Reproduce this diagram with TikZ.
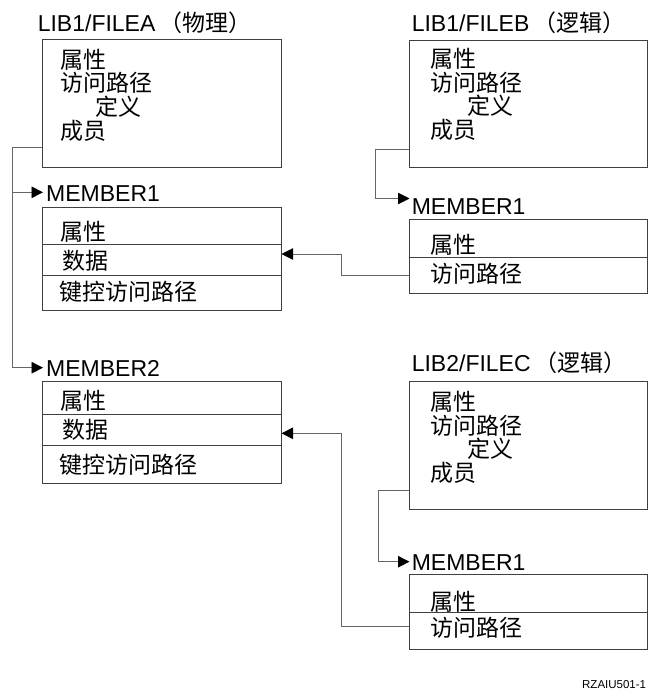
\documentclass[tikz,border=0pt]{standalone}
\usepackage{fontspec}
\setmainfont{Liberation Sans}
\newfontfamily\cjk{Noto Sans CJK SC}
\usetikzlibrary{arrows.meta}

\begin{document}
\begin{tikzpicture}[x=1pt,y=-1pt,font=\fontsize{23}{24}\selectfont,
  box/.style={draw=black!75,line width=0.9pt,inner sep=0pt,anchor=north west},
  row/.style={draw=black!75,line width=0.9pt},
  txt/.style={anchor=west,inner sep=0pt,font=\fontsize{23}{24}\selectfont\cjk},
  lbl/.style={anchor=base west,inner sep=0pt},
  link/.style={draw=black!60,line width=0.9pt},
  arr/.style={link,-{Triangle[length=11.5pt,width=11.5pt,color=black]}}]
\useasboundingbox (0,0) rectangle (648,689);
% files
\node[lbl] (titlea) at (37.6,31.7) {LIB1/FILEA\hspace{4pt}{\cjk（物理）}};
\node[box,minimum width=239pt,minimum height=127.4pt] (filea) at (41.7,39.3) {};
\node[txt] (fa1) at (60,60) {属性};
\node[txt] (fa2) at (60,83) {访问路径};
\node[txt] (fa3) at (95.7,107) {定义};
\node[txt] (fa4) at (60,131) {成员};
\node[lbl] (titleb) at (411.6,31.7) {LIB1/FILEB\hspace{4pt}{\cjk（逻辑）}};
\node[box,minimum width=237.7pt,minimum height=126.7pt] (fileb) at (409,40) {};
\node[txt] (fb1) at (430.7,59) {属性};
\node[txt] (fb2) at (430.7,82.5) {访问路径};
\node[txt] (fb3) at (467.3,106) {定义};
\node[txt] (fb4) at (430.7,130) {成员};
\node[lbl] (titlec) at (411.6,371.7) {LIB2/FILEC\hspace{4pt}{\cjk（逻辑）}};
\node[box,minimum width=237.7pt,minimum height=128.3pt] (filec) at (409,380.7) {};
\node[txt] (fc1) at (430.7,402) {属性};
\node[txt] (fc2) at (430.7,425.5) {访问路径};
\node[txt] (fc3) at (467.3,449) {定义};
\node[txt] (fc4) at (430.7,473) {成员};
% members
\node[lbl] (labela1) at (46,201.7) {MEMBER1};
\node[box,minimum width=239pt,minimum height=102.7pt] (mema1) at (41.7,207.3) {};
\draw[row] (41.7,244) -- (280.7,244);
\draw[row] (41.7,275.3) -- (280.7,275.3);
\node[txt] (ma11) at (60,232) {属性};
\node[txt] (ma12) at (62,261) {数据};
\node[txt] (ma13) at (59,292) {键控访问路径};
\node[lbl] (labela2) at (46,376) {MEMBER2};
\node[box,minimum width=239pt,minimum height=102.7pt] (mema2) at (41.7,380.7) {};
\draw[row] (41.7,414) -- (280.7,414);
\draw[row] (41.7,445.3) -- (280.7,445.3);
\node[txt] (ma21) at (60,401) {属性};
\node[txt] (ma22) at (62,430) {数据};
\node[txt] (ma23) at (59,465) {键控访问路径};
\node[lbl] (labelb1) at (411.6,214.5) {MEMBER1};
\node[box,minimum width=237.7pt,minimum height=74pt] (memb1) at (409,219.3) {};
\draw[row] (409,257.3) -- (646.7,257.3);
\node[txt] (mb11) at (430.7,245) {属性};
\node[txt] (mb12) at (430.7,273.3) {访问路径};
\node[lbl] (labelc1) at (411.6,570) {MEMBER1};
\node[box,minimum width=237.7pt,minimum height=75pt] (memc1) at (409,574.3) {};
\draw[row] (409,612.3) -- (646.7,612.3);
\node[txt] (mc11) at (430.7,601.7) {属性};
\node[txt] (mc12) at (430.7,627.3) {访问路径};
\node[anchor=base east,inner sep=0pt,font=\fontsize{11.5}{12}\selectfont] (figid) at (646.3,688) {RZAIU501-1};
% connectors
\coordinate (aout) at (41.7,147.7);
\coordinate (abend) at (12.3,147.7);
\coordinate (aj1) at (12.3,192.3);
\coordinate (aj2) at (12.3,367.7);
\coordinate (atip1) at (43,192.3);
\coordinate (atip2) at (43,367.7);
\draw[link] (aout) -- (abend) -- (aj2);
\draw[arr] (aj1) -- (atip1);
\draw[arr] (aj2) -- (atip2);
\coordinate (bout) at (409,149);
\coordinate (bbend) at (375.7,149);
\coordinate (bj) at (375.7,198.5);
\coordinate (btip) at (409.5,198.5);
\draw[arr] (bout) -- (bbend) -- (bj) -- (btip);
\coordinate (cout) at (409,490);
\coordinate (cbend) at (378.3,490);
\coordinate (cj) at (378.3,561.7);
\coordinate (ctip) at (409.5,561.7);
\draw[arr] (cout) -- (cbend) -- (cj) -- (ctip);
\coordinate (rbout) at (409,275);
\coordinate (rbbend) at (341.7,275);
\coordinate (rbj) at (341.7,254);
\coordinate (rbtip) at (281.5,254);
\draw[arr] (rbout) -- (rbbend) -- (rbj) -- (rbtip);
\coordinate (rcout) at (409,626.7);
\coordinate (rcbend) at (341.7,626.7);
\coordinate (rcj) at (341.7,433.3);
\coordinate (rctip) at (281.5,433.3);
\draw[arr] (rcout) -- (rcbend) -- (rcj) -- (rctip);
\end{tikzpicture}
\end{document}
